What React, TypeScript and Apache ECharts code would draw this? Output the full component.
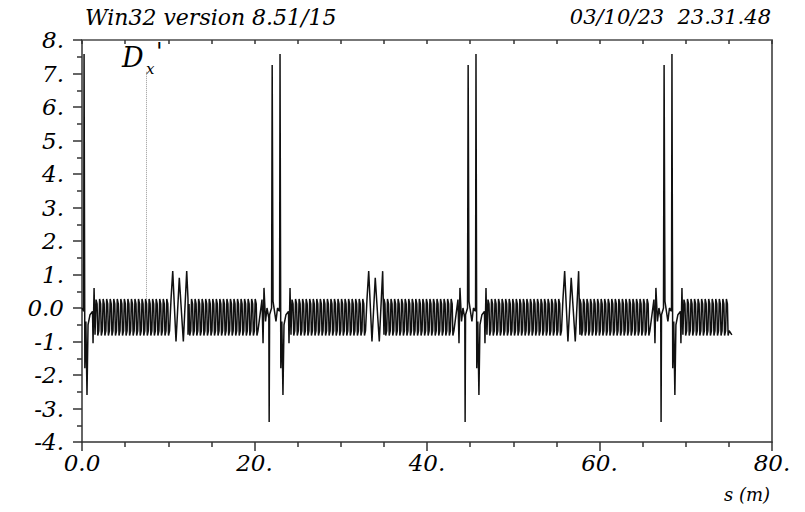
import React, { useEffect, useRef } from "react";
import * as echarts from "echarts";

// ---- data (s in metres, Dx' values) ----
const S_START = 0.0;
const S_START_VALUE = 0.0;
const S_END = 75.35;
const S_END_VALUE = -0.8;

// one arc (FODO) cell of the dense oscillation
const ARC_CELL_LENGTH = 0.41;
const ARC_CELL_DS = [0.0, 0.12, 0.2, 0.32];
const ARC_CELL_DX = [0.27, 0.12, -0.82, -0.68];
const ARC_STARTS = [1.63, 12.29, 24.35, 35.01, 47.07, 57.73, 69.79];
const ARC_ENDS = [10.32, 20.87, 33.04, 43.59, 55.76, 66.31, 75.35];

// large insertion with the two high spikes
const BIG_STARTS = [-1.85, 20.87, 43.59, 66.31];
const BIG_DS = [0.0, 0.12, 0.23, 0.41, 0.58, 0.79, 0.83, 0.88, 1.11, 1.18, 1.28, 1.45, 1.62, 1.8, 2.04, 2.09, 2.18, 2.3, 2.43, 2.55, 2.78, 3.07, 3.13, 3.25, 3.36, 3.48];
const BIG_DX = [0.25, -1.05, 0.6, -0.4, 0.0, -0.3, -3.4, -0.2, 0.0, 7.25, 0.2, -0.1, -0.4, 0.0, -0.1, 7.58, -1.8, -0.4, -2.6, -0.5, -0.2, -0.1, -1.05, 0.6, -0.8, 0.25];

// small insertion with three ~1.0 peaks
const SMALL_STARTS = [10.32, 33.04, 55.76];
const SMALL_DS = [0.0, 0.2, 0.58, 0.96, 1.43, 1.82, 1.97];
const SMALL_DX = [0.25, 1.1, -1.0, 0.9, -1.0, 1.1, -0.8];

// dotted label marker
const MARKER_S = 7.42;
const MARKER_TOP = 7.05;
const MARKER_BOTTOM = 0.27;

const X_MIN = 0;
const X_MAX = 80;
const Y_MIN = -4;
const Y_MAX = 8;

const TITLE_LEFT = "Win32 version 8.51/15";
const TITLE_RIGHT = "03/10/23\u00a0\u00a023.31.48";
const X_NAME = "s (m)";

function buildData(): [number, number][] {
  const pts: [number, number][] = [];
  pts.push([S_START, S_START_VALUE]);
  BIG_STARTS.forEach((s0) => {
    BIG_DS.forEach((ds, i) => pts.push([s0 + ds, BIG_DX[i]]));
  });
  SMALL_STARTS.forEach((s0) => {
    SMALL_DS.forEach((ds, i) => pts.push([s0 + ds, SMALL_DX[i]]));
  });
  ARC_STARTS.forEach((a, k) => {
    const end = ARC_ENDS[k];
    for (let s = a; s + ARC_CELL_LENGTH <= end + 1e-6; s += ARC_CELL_LENGTH) {
      ARC_CELL_DS.forEach((ds, i) => pts.push([s + ds, ARC_CELL_DX[i]]));
    }
  });
  pts.push([S_END, S_END_VALUE]);
  const filtered = pts.filter((p) => p[0] >= S_START && p[0] <= S_END);
  filtered.sort((a, b) => a[0] - b[0]);
  return filtered;
}

const FONT = "DejaVu Serif";
const AXIS_COLOR = "#333";

const fmt = (v: number) => (v === 0 ? "0.0" : `${v}.`);

export default function App() {
  const ref = useRef<HTMLDivElement>(null);
  useEffect(() => {
    document.body.style.margin = "0";
    if (!ref.current) return;
    const chart = echarts.init(ref.current, undefined, { renderer: "svg" });
    const data = buildData();
    const labelStyle = {
      color: "#000",
      fontSize: 23,
      fontStyle: "italic",
      fontFamily: FONT,
    };
    const txt = (size: number) => ({ fontSize: size, fontStyle: "italic", fontFamily: FONT, fill: "#000" });
    chart.setOption({
      animation: false,
      backgroundColor: "#fff",
      textStyle: { fontFamily: FONT },
      grid: { left: 82, right: 33, top: 40, bottom: 70, containLabel: false },
      xAxis: [
        {
          type: "value",
          position: "bottom",
          min: X_MIN,
          max: X_MAX,
          interval: 20,
          axisLine: { show: true, onZero: false, lineStyle: { color: AXIS_COLOR, width: 1.5 } },
          axisTick: { show: true, inside: false, length: 9, lineStyle: { color: AXIS_COLOR, width: 1.5 } },
          minorTick: { show: true, splitNumber: 4, length: 5, lineStyle: { color: AXIS_COLOR, width: 1.5 } },
          splitLine: { show: false },
          axisLabel: { show: true, margin: 9, formatter: fmt, showMinLabel: true, showMaxLabel: true, ...labelStyle },
        },
        {
          type: "value",
          position: "top",
          min: X_MIN,
          max: X_MAX,
          interval: 5,
          axisLine: { show: true, onZero: false, lineStyle: { color: "#777", width: 2 } },
          axisTick: { show: true, inside: true, length: 4, lineStyle: { color: AXIS_COLOR, width: 1.5 } },
          axisLabel: { show: false },
          splitLine: { show: false },
        },
      ],
      yAxis: [
        {
          type: "value",
          position: "left",
          min: Y_MIN,
          max: Y_MAX,
          interval: 1,
          axisLine: { show: true, onZero: false, lineStyle: { color: AXIS_COLOR, width: 1.5 } },
          axisTick: { show: true, inside: false, length: 9, lineStyle: { color: AXIS_COLOR, width: 1.5 } },
          minorTick: { show: true, splitNumber: 2, length: 5, lineStyle: { color: AXIS_COLOR, width: 1.5 } },
          splitLine: { show: false },
          axisLabel: { show: true, margin: 18, formatter: fmt, showMinLabel: true, showMaxLabel: true, ...labelStyle },
        },
        {
          type: "value",
          position: "right",
          min: Y_MIN,
          max: Y_MAX,
          interval: 1,
          axisLine: { show: true, onZero: false, lineStyle: { color: AXIS_COLOR, width: 1.5 } },
          axisTick: { show: false },
          axisLabel: { show: false },
          splitLine: { show: false },
        },
      ],
      series: [
        {
          type: "line",
          xAxisIndex: 0,
          yAxisIndex: 0,
          data,
          showSymbol: false,
          symbol: "none",
          smooth: false,
          lineStyle: { color: "#111", width: 1.5 },
          silent: true,
          markLine: {
            silent: true,
            symbol: "none",
            label: { show: false },
            lineStyle: { color: "#999", type: "dotted", width: 1 },
            data: [[{ coord: [MARKER_S, MARKER_TOP] }, { coord: [MARKER_S, MARKER_BOTTOM] }]],
          },
        },
      ],
      graphic: [
        { type: "text", left: 85, top: 6, style: { text: TITLE_LEFT, ...txt(22) } },
        { type: "text", right: 34, top: 6, style: { text: TITLE_RIGHT, ...txt(21) } },
        { type: "text", right: 35, top: 485, style: { text: X_NAME, ...txt(18) } },
        { type: "text", left: 122, top: 44, style: { text: "D", ...txt(27) } },
        { type: "text", left: 146, top: 61, style: { text: "x", ...txt(15) } },
        { type: "text", left: 156, top: 40, style: { text: "'", ...txt(24) } },
      ],
    });
    return () => chart.dispose();
  }, []);
  return <div ref={ref} style={{ width: 805, height: 512 }} />;
}
